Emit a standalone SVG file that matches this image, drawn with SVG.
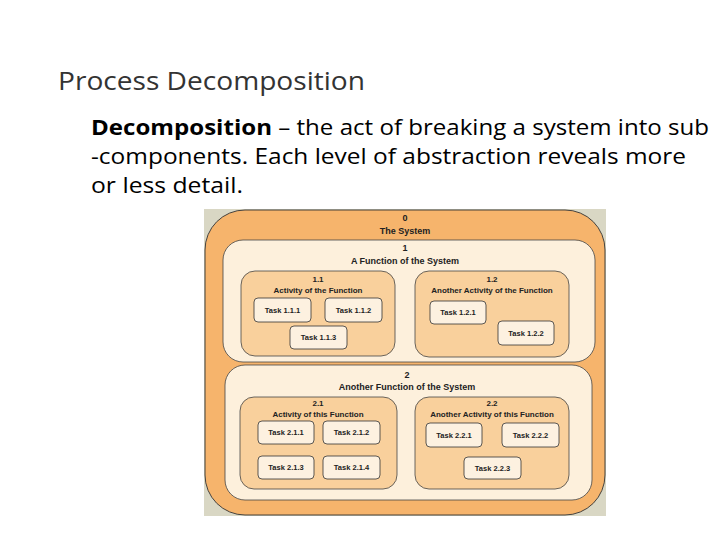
<svg xmlns="http://www.w3.org/2000/svg" width="720" height="540" viewBox="0 0 720 540">
<style>
.title{font-family:"Open Sans","Noto Sans",sans-serif;font-size:25px;fill:#333}
.body{font-family:"Open Sans","Noto Sans",sans-serif;font-size:21px;fill:#000}
.lbl{font-family:"Liberation Sans",Arial,sans-serif;font-weight:bold;fill:#222;text-anchor:middle}
.l0{font-size:9px}
.l1{font-size:9px}
.l2{font-size:8px}
.tk{font-size:7.5px}
.task rect{fill:#fdf1e0;stroke:#333;stroke-width:0.8}
.act{fill:#f9d09c;stroke:#444;stroke-width:0.8}
.fn{fill:#fdf0dc;stroke:#444;stroke-width:0.8}
</style>
<rect width="720" height="540" fill="#fff"/>
<text class="title" x="58" y="90" textLength="307" lengthAdjust="spacingAndGlyphs">Process Decomposition</text>
<text class="body" x="91" y="135" textLength="618" lengthAdjust="spacingAndGlyphs"><tspan font-weight="bold">Decomposition</tspan> – the act of breaking a system into sub</text>
<text class="body" x="91" y="164" textLength="595" lengthAdjust="spacingAndGlyphs">-components. Each level of abstraction reveals more</text>
<text class="body" x="91" y="193" textLength="152" lengthAdjust="spacingAndGlyphs">or less detail.</text>

<g id="diagram">
<rect x="204" y="209" width="402" height="307" fill="#d9d7c4"/>
<g id="n0">
<rect x="205" y="210" width="400" height="305" rx="40" fill="#f6b46c" stroke="#333" stroke-width="0.9"/>
<text class="lbl l0" x="405" y="221">0</text>
<text class="lbl l0" x="405" y="234">The System</text>
</g>
<g id="n1">
<rect class="fn" x="223" y="240" width="372" height="122" rx="20"/>
<text class="lbl l1" x="405" y="251">1</text>
<text class="lbl l1" x="405" y="264">A Function of the System</text>
</g>
<g id="n1_1">
<rect class="act" x="241" y="271" width="154" height="85" rx="14"/>
<text class="lbl l2" x="318" y="282">1.1</text>
<text class="lbl l2" x="318" y="293">Activity of the Function</text>
</g>
<g id="t1_1_1" class="task"><rect x="254" y="298" width="57" height="24" rx="4"/><text class="lbl tk" x="282.5" y="313">Task 1.1.1</text></g>
<g id="t1_1_2" class="task"><rect x="325" y="298" width="57" height="24" rx="4"/><text class="lbl tk" x="353.5" y="313">Task 1.1.2</text></g>
<g id="t1_1_3" class="task"><rect x="290" y="326" width="57" height="23" rx="4"/><text class="lbl tk" x="318.5" y="340">Task 1.1.3</text></g>
<g id="n1_2">
<rect class="act" x="415" y="271" width="154" height="86" rx="14"/>
<text class="lbl l2" x="492" y="282">1.2</text>
<text class="lbl l2" x="492" y="293">Another Activity of the Function</text>
</g>
<g id="t1_2_1" class="task"><rect x="430" y="301" width="56" height="23" rx="4"/><text class="lbl tk" x="458" y="315">Task 1.2.1</text></g>
<g id="t1_2_2" class="task"><rect x="498" y="321" width="56" height="24" rx="4"/><text class="lbl tk" x="526" y="336">Task 1.2.2</text></g>

<g id="n2">
<rect class="fn" x="225" y="365" width="367" height="135" rx="20"/>
<text class="lbl l1" x="407" y="378">2</text>
<text class="lbl l1" x="407" y="390">Another Function of the System</text>
</g>
<g id="n2_1">
<rect class="act" x="240" y="397" width="157" height="92" rx="14"/>
<text class="lbl l2" x="318" y="406">2.1</text>
<text class="lbl l2" x="318" y="417">Activity of this Function</text>
</g>
<g id="t2_1_1" class="task"><rect x="258" y="421" width="56" height="23" rx="4"/><text class="lbl tk" x="286" y="435">Task 2.1.1</text></g>
<g id="t2_1_2" class="task"><rect x="323" y="421" width="57" height="23" rx="4"/><text class="lbl tk" x="351.5" y="435">Task 2.1.2</text></g>
<g id="t2_1_3" class="task"><rect x="258" y="456" width="56" height="23" rx="4"/><text class="lbl tk" x="286" y="470">Task 2.1.3</text></g>
<g id="t2_1_4" class="task"><rect x="323" y="456" width="57" height="23" rx="4"/><text class="lbl tk" x="351.5" y="470">Task 2.1.4</text></g>
<g id="n2_2">
<rect class="act" x="415" y="397" width="154" height="92" rx="14"/>
<text class="lbl l2" x="492" y="406">2.2</text>
<text class="lbl l2" x="492" y="417">Another Activity of this Function</text>
</g>
<g id="t2_2_1" class="task"><rect x="426" y="423" width="56" height="24" rx="4"/><text class="lbl tk" x="454" y="438">Task 2.2.1</text></g>
<g id="t2_2_2" class="task"><rect x="502" y="423" width="57" height="24" rx="4"/><text class="lbl tk" x="530.5" y="438">Task 2.2.2</text></g>
<g id="t2_2_3" class="task"><rect x="464" y="457" width="57" height="22" rx="4"/><text class="lbl tk" x="492.5" y="471">Task 2.2.3</text></g>
</g>
<g id="connectors"/>
</svg>
